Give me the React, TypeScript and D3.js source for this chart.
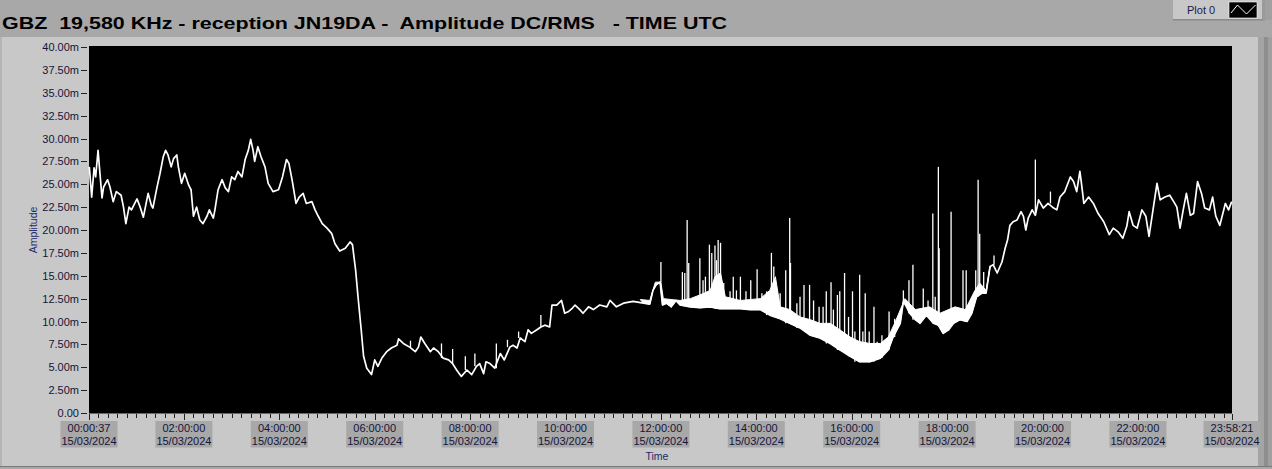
import React from "react";
import * as d3 from "d3";

// ---- data (minute of day, amplitude in mV) ----
const baseline: [number, number][] = [
  [1,26.9],[4,23.6],[7,26.8],[9,25.8],[12,28.7],[14,26.6],[17,23.5],[19,24.7],[24,25.5],[27,24.7],[31,23.1],[35,24.2],[41,23.8],[44,22.5],[47,20.7],[51,22.5],[54,22.2],[61,23.4],[65,22.5],[69,21.4],[75,24.0],[79,22.7],[81,22.4],[86,24.6],[90,26.2],[94,28.0],[97,28.7],[100,28.2],[104,26.9],[107,27.8],[111,28.2],[113,26.9],[117,25.1],[121,26.2],[126,24.9],[129,24.4],[132,21.5],[136,22.5],[140,21.1],[144,20.7],[149,21.5],[152,22.2],[157,21.3],[159,22.2],[163,24.4],[168,25.5],[172,24.6],[176,24.2],[180,25.8],[184,25.5],[188,26.4],[193,25.8],[197,27.7],[201,28.7],[204,29.9],[207,28.7],[209,27.5],[213,29.1],[217,28.0],[222,26.9],[226,25.1],[232,24.2],[239,24.4],[244,25.8],[249,27.7],[252,27.3],[256,25.5],[261,22.9],[265,23.6],[270,24.0],[274,22.9],[281,23.1],[285,22.2],[289,21.5],[294,20.7],[300,20.2],[306,19.6],[310,18.5],[316,17.7],[323,18.0],[329,18.7],[332,18.4],[336,15.6],[339,12.7],[343,9.1],[346,6.2],[350,4.9],[356,4.2],[360,5.8],[364,5.1],[369,6.0],[375,6.7],[381,7.1],[388,7.4],[390,8.1],[396,7.6],[404,7.2],[411,6.7],[415,7.2],[418,8.3],[423,7.6],[430,6.7],[434,7.1],[440,6.7],[446,6.0],[453,5.8],[458,5.4],[463,4.7],[469,4.0],[476,4.7],[482,4.2],[488,5.1],[492,5.4],[497,4.3],[500,5.6],[505,5.4],[511,4.9],[518,6.5],[523,5.8],[530,7.2],[534,7.4],[539,7.1],[543,8.2],[549,7.8],[553,9.1],[557,8.7],[564,9.1],[569,9.4],[574,9.6],[580,9.4],[583,11.8],[589,11.8],[595,12.3],[599,10.9],[604,11.1],[608,11.4],[612,11.8],[618,11.3],[622,10.9],[629,11.6],[635,11.3],[643,11.8],[652,11.6],[656,12.3],[664,11.6],[673,12.0],[685,12.2],[698,12.0],[706,11.9],[710,13.4],[714,14.0],[719,14.3],[722,11.8],[727,12.0],[733,11.6],[739,12.3],[744,11.8],[757,11.6],[769,11.5],[782,11.6],[794,11.4],[807,11.4],[820,11.4],[832,11.3],[845,11.3],[857,10.7],[870,10.3],[882,9.8],[895,9.3],[908,8.5],[920,8.2],[933,7.6],[945,6.9],[958,6.2],[970,5.6],[983,5.6],[996,6.0],[1006,6.9],[1012,8.3],[1021,9.8],[1025,12.2],[1029,11.6],[1033,10.9],[1040,10.2],[1046,9.8],[1054,10.7],[1063,9.8],[1069,9.6],[1075,8.7],[1082,9.1],[1088,9.8],[1096,10.2],[1105,10.0],[1111,10.9],[1117,12.7],[1124,13.1],[1129,13.1],[1134,16.0],[1138,16.2],[1143,15.3],[1149,16.5],[1153,18.0],[1156,18.9],[1159,20.5],[1163,20.9],[1168,21.1],[1173,22.0],[1176,21.5],[1179,20.0],[1182,21.3],[1187,22.2],[1191,21.6],[1195,23.3],[1201,22.4],[1207,22.9],[1214,22.4],[1218,22.2],[1222,23.6],[1228,24.2],[1235,25.8],[1239,25.3],[1243,24.2],[1247,26.4],[1249,25.1],[1252,22.9],[1258,23.6],[1264,22.9],[1270,21.8],[1277,20.9],[1284,19.5],[1289,20.2],[1295,19.8],[1301,19.1],[1306,20.4],[1309,22.0],[1314,20.5],[1319,20.2],[1325,22.2],[1330,21.5],[1334,19.3],[1339,22.2],[1344,25.1],[1348,23.3],[1354,23.6],[1360,23.8],[1365,23.1],[1369,22.5],[1373,20.2],[1377,22.2],[1381,24.0],[1386,21.6],[1390,21.8],[1395,25.3],[1400,24.0],[1404,22.4],[1410,22.2],[1414,23.6],[1418,21.5],[1423,20.5],[1430,22.9],[1434,22.2],[1438,23.1]
];

// upper edge of the dense noise band (12:00 - 19:00)
const noiseTop: [number, number][] = [
  [694,12.4],[706,12.3],[713,14.3],[720,14.3],[723,12.5],[744,12.3],[757,12.5],[769,12.9],[782,13.4],[788,14.9],[795,15.3],[801,12.7],[820,12.3],[845,12.5],[857,13.4],[864,14.9],[870,11.6],[882,11.3],[895,10.5],[908,10.2],[920,9.8],[933,9.8],[945,9.1],[958,8.3],[970,7.8],[983,7.6],[996,7.6],[1006,8.3],[1014,9.8],[1027,12.5],[1040,11.3],[1058,11.6],[1071,10.9],[1090,11.6],[1103,11.3],[1115,13.4],[1121,14.2],[1129,13.4],[1134,16.0]
];

// isolated spikes (minute, peak)
const spikes: [number, number][] = [
  [405,7.9],[444,7.6],[458,7.0],[474,6.2],[486,6.5],[513,7.6],[527,8.0],[541,8.9],[569,10.7],[720,16.5],[747,15.4],[750,15.3],[753,21.1],[755,16.4],[769,16.9],[773,14.5],[776,14.9],[781,18.4],[784,17.5],[788,18.3],[790,16.7],[792,18.9],[795,18.6],[799,14.2],[807,13.3],[811,14.9],[815,13.4],[820,14.9],[827,13.3],[833,14.5],[841,15.7],[847,13.1],[853,13.3],[859,17.5],[862,16.0],[870,13.1],[877,15.6],[882,21.3],[883,16.4],[891,12.0],[895,12.7],[900,14.0],[907,14.0],[912,12.3],[919,11.6],[924,11.6],[928,13.3],[934,14.3],[937,11.3],[942,12.9],[945,13.3],[951,15.3],[956,10.5],[961,13.3],[964,8.9],[970,15.1],[974,8.9],[977,13.1],[982,8.9],[988,11.6],[992,7.8],[998,8.5],[1002,8.0],[1007,11.1],[1014,10.3],[1025,13.4],[1032,14.5],[1037,16.2],[1050,13.6],[1056,12.3],[1062,21.8],[1065,12.7],[1069,26.9],[1070,18.0],[1085,22.0],[1100,15.6],[1104,15.6],[1116,15.6],[1119,25.5],[1121,19.6],[1126,15.4],[1139,17.2],[1191,27.7],[1210,24.2]
];

const yTicks = [0,2.5,5,7.5,10,12.5,15,17.5,20,22.5,25,27.5,30,32.5,35,37.5,40];
const yTickLabels = ["0.00","2.50m","5.00m","7.50m","10.00m","12.50m","15.00m","17.50m","20.00m","22.50m","25.00m","27.50m","30.00m","32.50m","35.00m","37.50m","40.00m"];
const xTicks = [0.617,120,240,360,480,600,720,840,960,1080,1200,1320,1438.35];
const xTickTimes = ["00:00:37","02:00:00","04:00:00","06:00:00","08:00:00","10:00:00","12:00:00","14:00:00","16:00:00","18:00:00","20:00:00","22:00:00","23:58:21"];
const xTickDate = "15/03/2024";
const title = "GBZ  19,580 KHz - reception JN19DA -  Amplitude DC/RMS   - TIME UTC";

export default function App() {
  const W = 1272, H = 469;
  const x = d3.scaleLinear().domain([0.617, 1438.35]).range([89, 1232]);
  const y = d3.scaleLinear().domain([0, 40]).range([413, 47]);
  const line = d3.line<[number, number]>().x(d => x(d[0])).y(d => y(d[1]));
  const bis = d3.bisector((d: [number, number]) => d[0]);

  const lo = noiseTop[0][0], hi = noiseTop[noiseTop.length - 1][0];
  const baseInRange = baseline.filter(d => d[0] >= lo && d[0] <= hi).slice().reverse();
  const bandPath = line([...noiseTop, ...baseInRange]) + "Z";

  const minor: number[] = [];
  for (let m = 12; m < 1438; m += 12) minor.push(m);

  const font = "'Liberation Sans', Arial, sans-serif";
  const tc = "#15153a";

  return (
    <svg width={W} height={H} style={{ position: "fixed", left: 0, top: 0, display: "block" }} fontFamily={font}>
      <rect x={0} y={0} width={W} height={H} fill="#a8a8a8" />
      {/* panel */}
      <rect x={0} y={37} width={1258} height={429} fill="#c8c8c8" />
      <rect x={0} y={37} width={2} height={429} fill="#b4b4b4" />
      <rect x={1258} y={37} width={6} height={429} fill="#a4a4a4" />
      <rect x={1264} y={37} width={4} height={429} fill="#8e8e8e" />
      <rect x={1268} y={37} width={4} height={429} fill="#a0a0a0" />
      <rect x={0} y={466} width={W} height={1} fill="#7a7a7a" />
      {/* title */}
      <text x={2} y={29} fontSize={17} fontWeight="bold" fill="#000" textLength={725} lengthAdjust="spacingAndGlyphs" style={{ whiteSpace: "pre" }}>{title}</text>
      {/* legend */}
      <rect x={1173} y={0} width={92} height={20} fill="#c8c8c8" />
      <rect x={1173} y={19} width={92} height={1.5} fill="#8a8a8a" />
      <rect x={1262} y={0} width={3} height={20} fill="#9a9a9a" />
      <rect x={1265} y={0} width={7} height={20} fill="#a0a0a0" />
      <text x={1187} y={14} fontSize={11} fill="#1a1a4a">Plot 0</text>
      <rect x={1229} y={2} width={28} height={16} fill="#000" stroke="#ffffff" strokeWidth={0.6} />
      <path d="M1231,13 L1237.5,5 L1246.5,14 L1255.5,5" fill="none" stroke="#fff" strokeWidth={1} />
      {/* plot area */}
      <rect x={89} y={46} width={1143} height={367.5} fill="#000" />
      <g>
        <path d={bandPath} fill="#fff" stroke="#fff" strokeWidth={1} />
        {spikes.map((s, i) => {
          const b = baseline[bis.center(baseline, s[0])];
          return <line key={i} x1={x(s[0])} x2={x(s[0])} y1={y(Math.min(b[1], s[1]))} y2={y(s[1])} stroke="#fff" strokeWidth={1.3} />;
        })}
        <path d={line(baseline) || ""} fill="none" stroke="#fff" strokeWidth={1.7} strokeLinejoin="round" />
      </g>
      {/* y axis */}
      {yTicks.map((t, i) => (
        <g key={i}>
          <line x1={81} x2={87} y1={Math.round(y(t)) + 0.5} y2={Math.round(y(t)) + 0.5} stroke="#222" strokeWidth={1} />
          <text x={79} y={y(t) + 4} fontSize={11} textAnchor="end" fill={tc}>{yTickLabels[i]}</text>
        </g>
      ))}
      <text transform="translate(37,230) rotate(-90)" fontSize={10.5} textAnchor="middle" fill="#1a2a6a">Amplitude</text>
      {/* x axis */}
      {minor.map((m, i) => (
        <line key={i} x1={Math.round(x(m)) + 0.5} x2={Math.round(x(m)) + 0.5} y1={414} y2={418} stroke="#222" strokeWidth={1} />
      ))}
      {xTicks.map((t, i) => (
        <g key={i}>
          <line x1={Math.round(x(t)) + 0.5} x2={Math.round(x(t)) + 0.5} y1={414} y2={420} stroke="#222" strokeWidth={1} />
          <rect x={x(t) - 28.5} y={421} width={57} height={26.5} fill="#a8a8a8" />
          <text x={x(t)} y={431.5} fontSize={11} textAnchor="middle" fill={tc}>{xTickTimes[i]}</text>
          <text x={x(t)} y={445} fontSize={11} textAnchor="middle" fill={tc}>{xTickDate}</text>
        </g>
      ))}
      <text x={657} y={460} fontSize={10.5} textAnchor="middle" fill="#1a2a6a">Time</text>
    </svg>
  );
}
